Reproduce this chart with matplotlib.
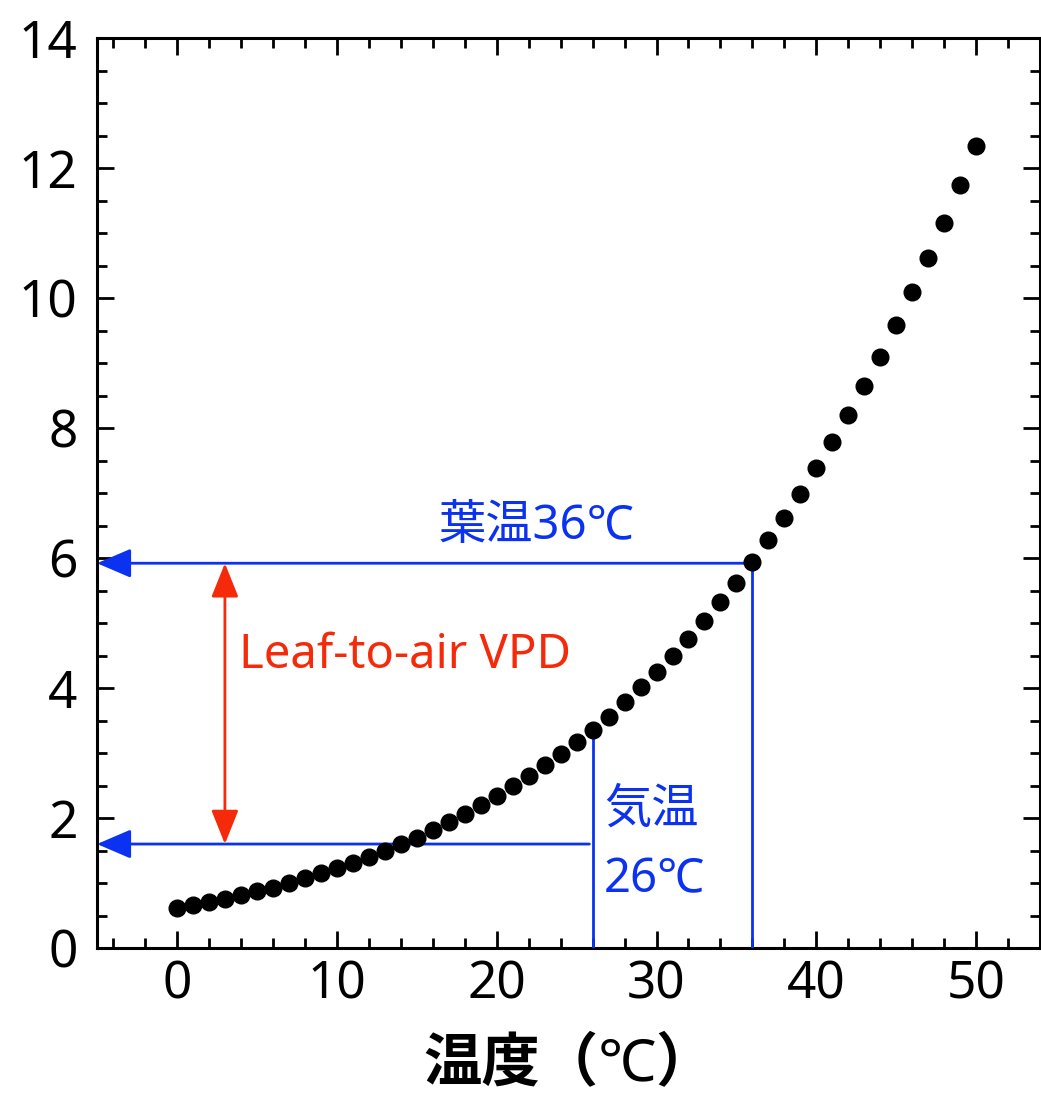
import matplotlib.pyplot as plt
from matplotlib.ticker import MultipleLocator

plt.rcParams['font.family'] = ['Noto Sans', 'Noto Sans CJK JP', 'DejaVu Sans']

# Saturation vapour pressure (kPa)
temperature = list(range(0, 51))
vapor_pressure = [0.61, 0.66, 0.71, 0.76, 0.81, 0.87, 0.93, 1.00, 1.07, 1.15,
                  1.23, 1.31, 1.40, 1.50, 1.60, 1.70, 1.82, 1.94, 2.06, 2.20,
                  2.34, 2.49, 2.64, 2.81, 2.98, 3.17, 3.36, 3.56, 3.78, 4.01,
                  4.24, 4.49, 4.75, 5.03, 5.32, 5.62, 5.94, 6.27, 6.62, 6.99,
                  7.38, 7.78, 8.20, 8.64, 9.10, 9.58, 10.09, 10.61, 11.16, 11.74,
                  12.34]

air_temp = 26
leaf_temp = 36
air_vp_top = 3.30      # where the air-temperature line stops
leaf_vp = 5.92
actual_vp = 1.60       # actual vapour pressure of the air
vpd_x = 3

blue = '#0A32F0'
red = '#F52A0A'

fig = plt.figure(figsize=(10.41, 10.96), dpi=100)
ax = fig.add_axes([0.0932, 0.135, 0.906, 0.8303])

ax.plot(temperature, vapor_pressure, 'o', color='black', markersize=12, zorder=5)

head = '-|>,head_length=1.05,head_width=0.45'

# leaf temperature guide
ax.plot([leaf_temp, leaf_temp], [0, leaf_vp], color=blue, lw=2, zorder=3)
ax.annotate('', xy=(-5, leaf_vp), xytext=(leaf_temp, leaf_vp),
            arrowprops=dict(arrowstyle=head, mutation_scale=20, color=blue, lw=2,
                            shrinkA=0, shrinkB=0), zorder=3)

# air temperature guide
ax.plot([air_temp, air_temp], [0, air_vp_top], color=blue, lw=2, zorder=3)
ax.annotate('', xy=(-5, actual_vp), xytext=(air_temp - 0.2, actual_vp),
            arrowprops=dict(arrowstyle=head, mutation_scale=20, color=blue, lw=2,
                            shrinkA=0, shrinkB=0), zorder=3)

# VPD double arrow
ax.annotate('', xy=(vpd_x, leaf_vp), xytext=(vpd_x, actual_vp),
            arrowprops=dict(arrowstyle='<|-|>,head_length=1.05,head_width=0.42',
                            mutation_scale=20, color=red, lw=2,
                            shrinkA=0, shrinkB=0), zorder=3)

ax.text(22.5, 6.48, '葉温36℃', color=blue, fontsize=34, ha='center', va='center')
ax.text(3.9, 4.5, 'Leaf-to-air VPD', color=red, fontsize=34, ha='left', va='center')
ax.text(26.7, 2.12, '気温', color=blue, fontsize=34, ha='left', va='center')
ax.text(26.7, 1.05, '26℃', color=blue, fontsize=34, ha='left', va='center')

ax.set_xlim(-5, 54)
ax.set_ylim(0, 14)
ax.xaxis.set_major_locator(MultipleLocator(10))
ax.xaxis.set_minor_locator(MultipleLocator(2))
ax.yaxis.set_major_locator(MultipleLocator(2))
ax.yaxis.set_minor_locator(MultipleLocator(0.5))

ax.tick_params(which='both', direction='in', top=True, right=True, width=2)
ax.tick_params(which='major', length=12, labelsize=37)
ax.tick_params(which='minor', length=7)
ax.tick_params(axis='x', pad=8)
ax.tick_params(axis='y', pad=14)
for spine in ax.spines.values():
    spine.set_linewidth(2.2)

ax.set_xlabel('温度（℃）', fontsize=42, fontweight='bold', labelpad=18)

fig.savefig('out.png', dpi=100)
